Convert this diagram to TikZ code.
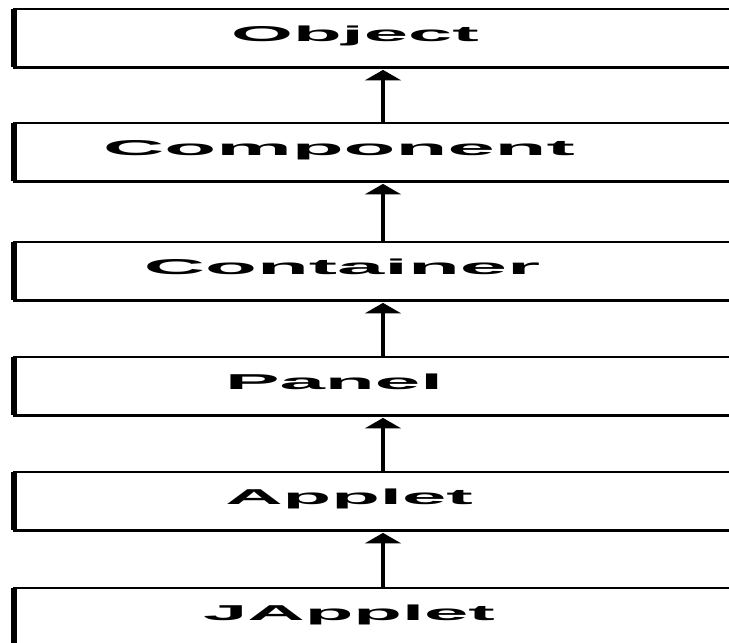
\documentclass[tikz,border=0pt]{standalone}
\usepackage{fontspec}
\setmainfont{Liberation Sans}
\usepackage{graphicx}
\usetikzlibrary{arrows.meta}

\newcommand{\widename}[2][3.7]{\scalebox{#1}[1]{#2}}

\tikzset{
	classbox/.style={shape=rectangle, anchor=north west, minimum width=760pt, minimum height=58pt, inner sep=0pt},
	classname/.style={anchor=base, inner sep=0pt, font=\fontsize{21.5}{22}\selectfont\bfseries},
	inherit/.style={line width=3.5pt, -{Triangle[width=36pt,length=10.5pt]}, shorten >=2.5pt}
}

\begin{document}
\begin{tikzpicture}[x=1pt, y=-1pt]
	\useasboundingbox (0,0) rectangle (729,643);
	\clip (0,0) rectangle (729,643);
	\fill[white] (0,0) rectangle (729,643);

	% class boxes, open to the right
	\node (object) at (14,9) [classbox] {};
	\node (component) at (14,123) [classbox] {};
	\node (container) at (14,242) [classbox] {};
	\node (panel) at (14,357) [classbox] {};
	\node (applet) at (14,472) [classbox] {};
	\node (japplet) at (14,588) [classbox, minimum height=80pt] {};

	\foreach \b in {object,component,container,panel,applet,japplet}{
		\draw[line width=2.5pt] (\b.north east) -- (\b.north west) -- (\b.south west) -- (\b.south east);
		\draw[line width=5.5pt] (\b.north west) -- (\b.south west);
	}

	\node (objectname) at (355,41) [classname] {\widename{Object}};
	\node (componentname) at (339,155) [classname] {\widename[3.95]{Component}};
	\node (containername) at (342,274) [classname] {\widename[3.95]{Container}};
	\node (panelname) at (334,389) [classname] {\widename[3.8]{Panel}};
	\node (appletname) at (349,504) [classname] {\widename{Applet}};
	\node (jappletname) at (349,620) [classname] {\widename{JApplet}};

	\coordinate (spine) at (383,0);
	\draw[inherit] (component.north -| spine) -- (object.south -| spine);
	\draw[inherit] (container.north -| spine) -- (component.south -| spine);
	\draw[inherit] (panel.north -| spine) -- (container.south -| spine);
	\draw[inherit] (applet.north -| spine) -- (panel.south -| spine);
	\draw[inherit] (japplet.north -| spine) -- (applet.south -| spine);
\end{tikzpicture}
\end{document}
